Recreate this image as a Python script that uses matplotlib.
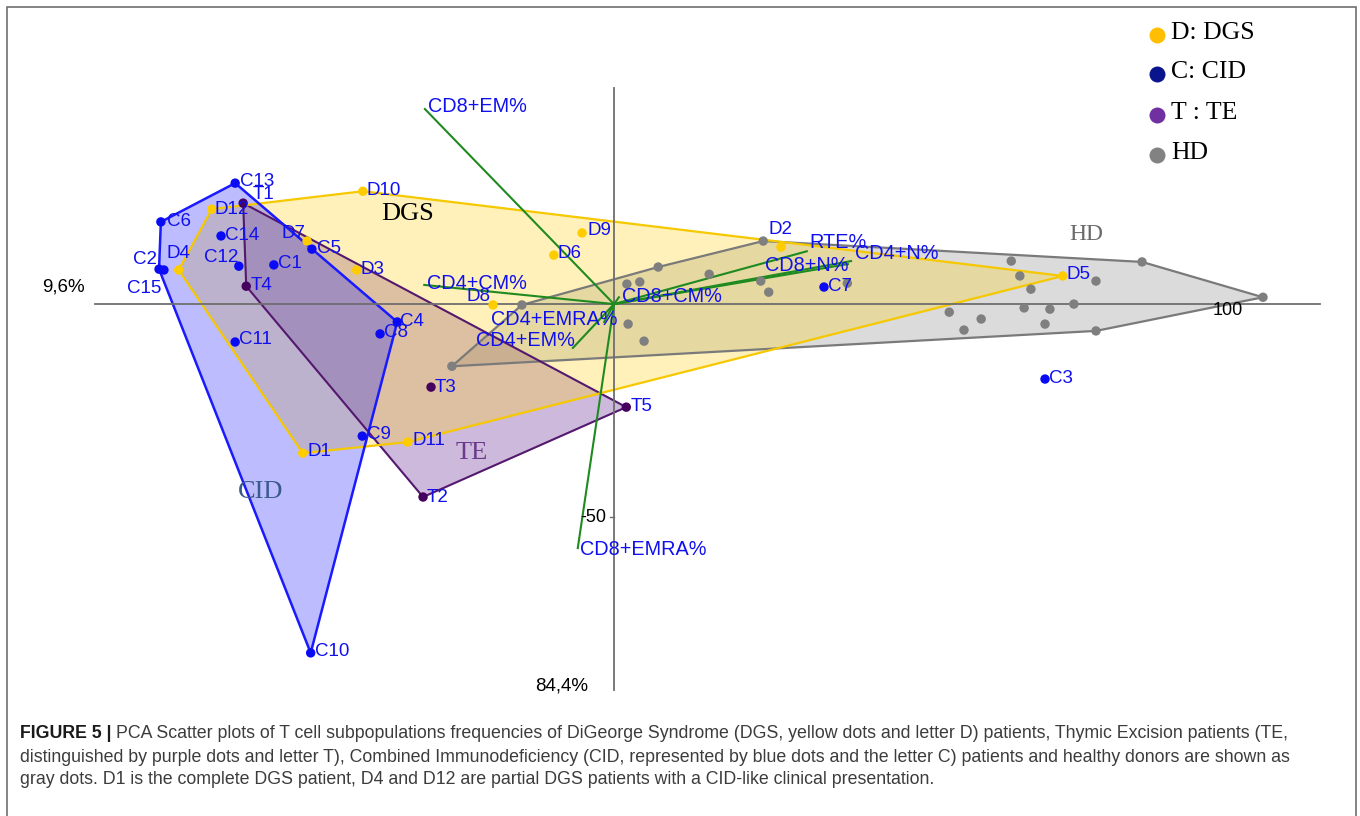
import matplotlib.pyplot as plt
from matplotlib.patches import Polygon, Rectangle
import numpy as np

# PCA scores (PC1 across, PC2 up)
dgs_names = ['D1', 'D2', 'D3', 'D4', 'D5', 'D6', 'D7', 'D8', 'D9', 'D10', 'D11', 'D12']
dgs_x = [-50.7, 27.2, -41.9, -70.9, 73.1, -9.8, -50.0, -19.7, -5.2, -40.9, -33.6, -65.5]
dgs_y = [-35.0, 13.4, 8.0, 8.0, 6.6, 11.5, 14.8, -0.2, 16.7, 26.5, -32.4, 22.3]

cid_names = ['C1', 'C2', 'C3', 'C4', 'C5', 'C6', 'C7', 'C8', 'C9', 'C10',
             'C11', 'C12', 'C13', 'C14', 'C15']
cid_x = [-55.4, -74.1, 70.2, -35.3, -49.2, -73.8, 34.2, -38.1, -41.0, -49.4,
         -61.7, -61.1, -61.7, -64.0, -73.3]
cid_y = [9.2, 8.2, -17.6, -4.2, 12.9, 19.3, 4.0, -7.0, -31.0, -81.9,
         -8.9, 8.9, 28.4, 16.0, 8.0]
cid_outliers = ['C3', 'C7']   # left out of the CID envelope

te_names = ['T1', 'T2', 'T3', 'T4', 'T5']
te_x = [-60.4, -31.1, -29.8, -59.9, 2.0]
te_y = [23.7, -45.3, -19.5, 4.2, -24.2]

hd_x = [-26.4, -15.0, 2.1, 4.2, 7.2, 15.5, 2.3, 4.9, 24.3, 23.9, 25.2, 38.0, 64.7,
        66.1, 67.9, 54.6, 59.8, 57.0, 66.8, 71.0, 70.2, 74.9, 86.0, 78.5, 105.7, 78.5]
hd_y = [-14.6, -0.2, 4.7, 5.2, 8.7, 7.0, -4.7, -8.7, 14.8, 5.4, 2.8, 4.9, 10.1,
        6.6, 3.5, -1.9, -3.5, -6.1, -0.9, -1.2, -4.7, 0.0, 9.9, 5.4, 1.6, -6.3]

# loading vectors
var_names = ['CD8+EM%', 'CD4+CM%', 'CD8+CM%', 'CD4+EMRA%', 'CD4+EM%',
             'CD8+EMRA%', 'RTE%', 'CD8+N%', 'CD4+N%']
var_x = [-30.8, -30.9, 0.8, -1.6, -6.7, -5.9, 31.4, 38.1, 38.6]
var_y = [45.8, 4.5, 1.6, -4.2, -10.3, -57.3, 12.4, 9.4, 10.1]

pc1_label = '84,4%'
pc2_label = '9,6%'

W, H = 1360, 816
fig = plt.figure(figsize=(W / 100, H / 100), dpi=100)
ax = fig.add_axes([0, 0, 1, 1])
ax.set_xlim(-100, 121.5)
ax.set_ylim(-120.2, 71.4)
ax.axis('off')

def fx(x):
    return x / W

def fy(y):
    return 1 - y / H

SANS = ['Liberation Sans', 'DejaVu Sans']
SERIF = ['Liberation Serif', 'DejaVu Serif']
LBL = '#1010ee'


def hull(xs, ys):
    pts = sorted(set(zip(xs, ys)))
    def cross(o, a, b):
        return (a[0] - o[0]) * (b[1] - o[1]) - (a[1] - o[1]) * (b[0] - o[0])
    lower, upper = [], []
    for p in pts:
        while len(lower) >= 2 and cross(lower[-2], lower[-1], p) <= 0:
            lower.pop()
        lower.append(p)
    for p in reversed(pts):
        while len(upper) >= 2 and cross(upper[-2], upper[-1], p) <= 0:
            upper.pop()
        upper.append(p)
    return lower[:-1] + upper[:-1]


# envelopes, stacked HD, TE, DGS, CID
cx = [x for n, x in zip(cid_names, cid_x) if n not in cid_outliers]
cy = [y for n, y in zip(cid_names, cid_y) if n not in cid_outliers]
envs = [
    (hull(hd_x, hd_y), '#808080', 0.28, '#7a7a7a', 1.6),
    (hull(te_x, te_y), '#5a1a8c', 0.30, '#54186e', 1.5),
    (hull(dgs_x, dgs_y), '#ffd21a', 0.30, '#f5c800', 1.6),
    (hull(cx, cy), '#2222ff', 0.30, '#1a1aff', 1.8),
]
for pts, fc, a, ec, lw in envs:
    ax.add_patch(Polygon(pts, closed=True, facecolor=fc, alpha=a, edgecolor='none', zorder=1))
for pts, fc, a, ec, lw in envs:
    ax.add_patch(Polygon(pts, closed=True, facecolor='none', edgecolor=ec, lw=lw, zorder=2))

# axes through the origin
ax.plot([-84.5, 115.0], [0, 0], color='#6e6e6e', lw=1.3, zorder=3)
ax.plot([0, 0], [50.7, -90.6], color='#6e6e6e', lw=1.3, zorder=3)
ax.plot([-0.6, 0], [-50, -50], color='#6e6e6e', lw=1.0, zorder=3)
ax.text(-1.2, -50, '-50', ha='right', va='center', fontsize=13, family=SANS, zorder=6)
ax.text(100, -1.6, '100', ha='center', va='center', fontsize=13, family=SANS, zorder=6)
fig.text(fx(63), fy(287), pc2_label, ha='center', va='center', fontsize=13.5, family=SANS)
fig.text(fx(562), fy(686), pc1_label, ha='center', va='center', fontsize=13.5, family=SANS)

# loading vectors
var_off = {'CD8+EM%': (3, 3), 'CD4+CM%': (3, 1), 'CD8+CM%': (3, 1),
           'CD4+EMRA%': (-113, 2), 'CD4+EM%': (-97, 7), 'CD8+EMRA%': (2, -1),
           'RTE%': (3, 9), 'CD8+N%': (-83, -1), 'CD4+N%': (4, 8)}
for n, x, y in zip(var_names, var_x, var_y):
    ax.plot([0, x], [0, y], color='#1f8a1f', lw=1.5, zorder=4)
    ax.annotate(n, (x, y), xytext=var_off[n], textcoords='offset pixels',
                ha='left', va='center', color=LBL, fontsize=14.3, family=SANS, zorder=7)

# points
ax.scatter(hd_x, hd_y, s=46, color='#7f7f7f', edgecolors='none', zorder=5)
ax.scatter(dgs_x, dgs_y, s=46, color='#ffcc00', edgecolors='none', zorder=5)
ax.scatter(cid_x, cid_y, s=46, color='#0a0af5', edgecolors='none', zorder=5)
ax.scatter(te_x, te_y, s=46, color='#46005f', edgecolors='none', zorder=5)

pt_off = {'C13': (5, 2), 'T1': (9, 9), 'D12': (3, 0), 'C6': (6, 0), 'C14': (4, 0),
          'D7': (-25, 8), 'C5': (5, 1), 'D4': (-12, 17), 'C2': (-26, 10),
          'C15': (-37, -18), 'C12': (-35, 9), 'D9': (5, 2), 'D6': (4, 2),
          'D8': (-27, 8), 'D2': (-13, 18), 'C4': (3, 0), 'C9': (5, 2),
          'D11': (5, 2), 'D1': (5, 2), 'T3': (4, 0), 'T2': (4, 0), 'C11': (4, 2)}
for names, xs, ys in [(dgs_names, dgs_x, dgs_y), (cid_names, cid_x, cid_y),
                      (te_names, te_x, te_y)]:
    for n, x, y in zip(names, xs, ys):
        ax.annotate(n, (x, y), xytext=pt_off.get(n, (4, 1)), textcoords='offset pixels',
                    ha='left', va='center', color=LBL, fontsize=13.5, family=SANS, zorder=7)

# group names
ax.text(-33.6, 21.1, 'DGS', ha='center', va='center', fontsize=19, family=SERIF,
        color='black', zorder=6)
ax.text(-23.1, -35.0, 'TE', ha='center', va='center', fontsize=19, family=SERIF,
        color='#6a3a8a', zorder=6)
ax.text(-57.5, -44.1, 'CID', ha='center', va='center', fontsize=19, family=SERIF,
        color='#3a5a8a', zorder=6)
ax.text(77.0, 16.4, 'HD', ha='center', va='center', fontsize=17, family=SERIF,
        color='#6a6a6a', zorder=6)

# legend
leg = [('D: DGS', '#ffbf00'), ('C: CID', '#0a148c'), ('T : TE', '#7030a0'), ('HD', '#828282')]
for i, (t, c) in enumerate(leg):
    yy = [33, 72, 113, 153][i]
    fig.text(fx(1171), fy(yy), t, ha='left', va='center', fontsize=18.5, family=SERIF)
    ax.plot([fx(1157)], [fy(yy + 2)], 'o', color=c, markersize=11.5, mec='none',
            transform=fig.transFigure, clip_on=False)

# frame
fig.patches.append(Rectangle((fx(7), fy(830)), fx(1356) - fx(7), fy(7) - fy(830),
                             fill=False, edgecolor='#707070', lw=1.2,
                             transform=fig.transFigure, figure=fig))

# caption
cap = ['PCA Scatter plots of T cell subpopulations frequencies of DiGeorge Syndrome (DGS, yellow dots and letter D) patients, Thymic Excision patients (TE,',
       'distinguished by purple dots and letter T), Combined Immunodeficiency (CID, represented by blue dots and the letter C) patients and healthy donors are shown as',
       'gray dots. D1 is the complete DGS patient, D4 and D12 are partial DGS patients with a CID-like clinical presentation.']
CAPF = ['Liberation Sans', 'DejaVu Sans']
bold = fig.text(fx(20), fy(734), 'FIGURE 5 | ', ha='left', va='center', fontsize=12.8,
                family=CAPF, weight='bold', color='#1a1a1a')
r = fig.canvas.get_renderer()
bx = bold.get_window_extent(r).x1
for i, line in enumerate(cap):
    x0 = bx / W if i == 0 else fx(20)
    fig.text(x0, fy(734 + 23 * i), line, ha='left', va='center', fontsize=12.8,
             family=CAPF, color='#3c3c3c')

fig.savefig('out.png', dpi=100)
